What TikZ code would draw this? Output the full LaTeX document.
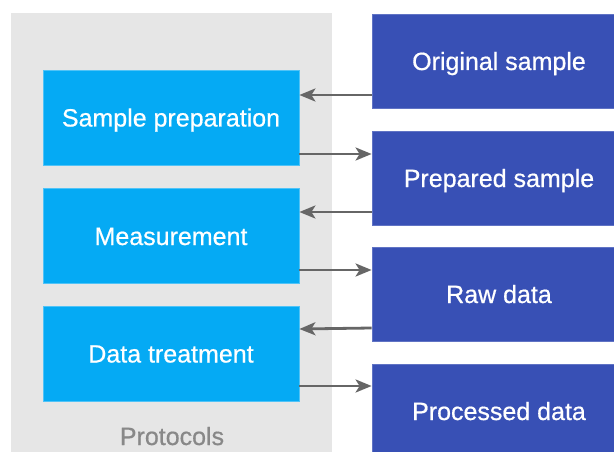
\documentclass[tikz,border=0pt]{standalone}
\usepackage{fontspec}
\setmainfont{Liberation Sans}
\newfontface\heavy{Liberation Sans}[FakeBold=0.6]
\usetikzlibrary{arrows.meta}
\definecolor{panelgray}{HTML}{E6E6E6}
\definecolor{lightblue}{HTML}{05AAF4}
\definecolor{darkblue}{HTML}{3850B5}
\definecolor{arrowgray}{HTML}{666666}
\definecolor{labelgray}{HTML}{888888}
\tikzset{
  protbox/.style={rectangle, fill=lightblue, draw=lightblue!70!white, line width=0.8pt,
    minimum width=256pt, minimum height=95pt, inner sep=0pt, text=white,
    text height=18pt, text depth=0pt,
    font=\heavy\fontsize{25}{30}\selectfont},
  itembox/.style={rectangle, fill=darkblue, draw=darkblue!80!white, line width=0.8pt,
    minimum width=254pt, minimum height=94pt, inner sep=0pt, text=white,
    text height=18pt, text depth=0pt,
    font=\heavy\fontsize{25}{30}\selectfont},
  arr/.style={draw=arrowgray, line width=2.8pt, -{Stealth[length=16pt,width=13pt,inset=4pt]}}
}
\begin{document}
\begin{tikzpicture}[x=1pt,y=-1pt]
\useasboundingbox (0,0) rectangle (614,452);
\fill[white] (0,0) rectangle (614,452);
% panel
\fill[panelgray] (11,13) rectangle (332,460);
\node[text=labelgray, font=\heavy\fontsize{25}{30}\selectfont, text height=18pt, text depth=0pt, inner sep=0pt] (protocols) at (172,436) {Protocols};
% protocol boxes
\node[protbox] (prep) at (171,117.5) {Sample preparation};
\node[protbox] (meas) at (171,236) {Measurement};
\node[protbox] (treat) at (171,353.5) {Data treatment};
% item boxes
\node[itembox] (orig) at (499,61) {Original sample};
\node[itembox] (prepd) at (499,178) {Prepared sample};
\node[itembox] (raw) at (499,294) {Raw data};
\node[itembox] (proc) at (499,411) {Processed data};
% arrows
\draw[arr] (orig.west |- 0,95) -- (prep.east |- 0,95);
\draw[arr] (prep.east |- 0,154) -- (prepd.west |- 0,154);
\draw[arr] (prepd.west |- 0,212) -- (meas.east |- 0,212);
\draw[arr] (meas.east |- 0,270) -- (raw.west |- 0,270);
\draw[arr] (raw.west |- 0,328) -- (treat.east |- 0,329);
\draw[arr] (treat.east |- 0,386) -- (proc.west |- 0,386);
\end{tikzpicture}
\end{document}
